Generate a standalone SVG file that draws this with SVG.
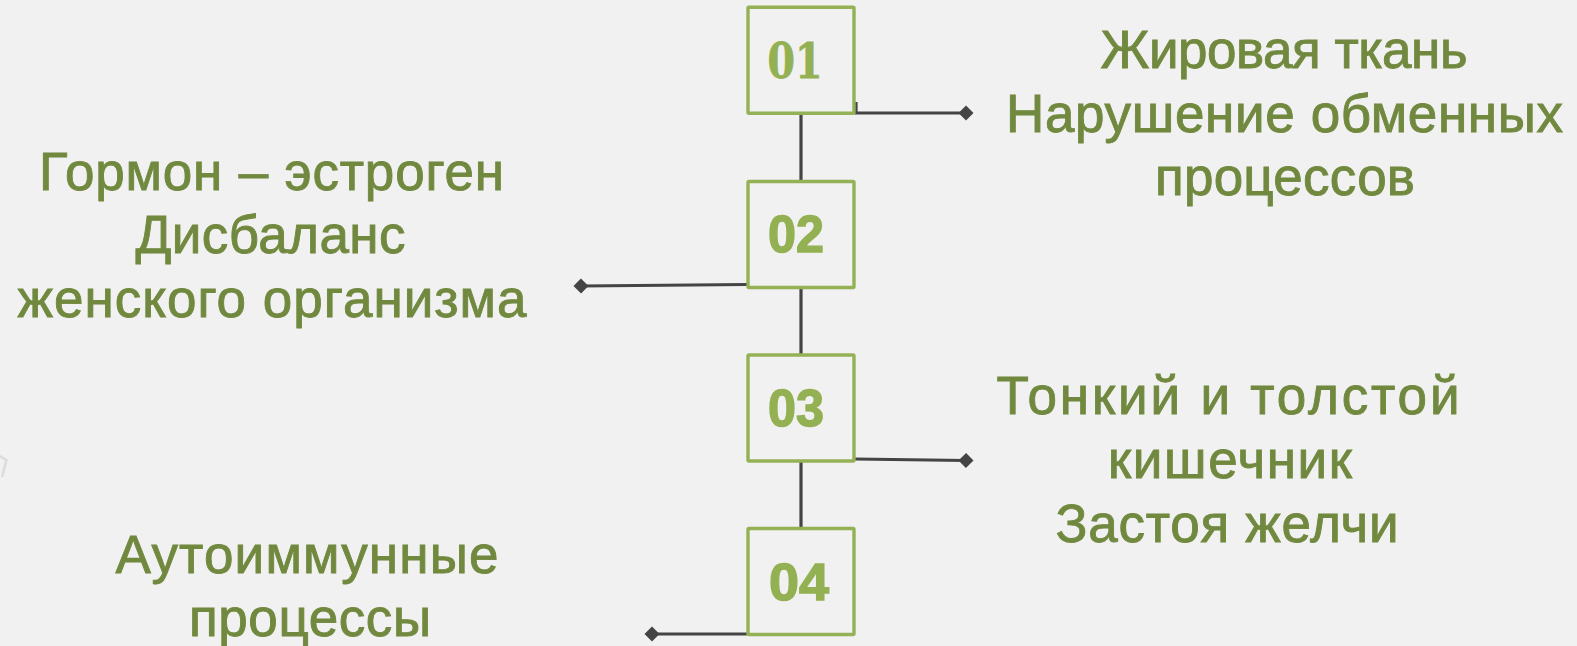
<svg xmlns="http://www.w3.org/2000/svg" width="1577" height="646" viewBox="0 0 1577 646">
  <defs>
    <style>
      .box { fill: none; stroke: #94b155; stroke-width: 3.4; }
      .num { font-family: "Liberation Sans", Arial, sans-serif; font-weight: bold; font-size: 51px; fill: #93b153; stroke: #93b153; stroke-width: 1.4; text-anchor: middle; }
      .num1 { font-family: "DejaVu Serif", "Liberation Serif", serif; font-weight: bold; font-size: 48px; fill: #93b153; stroke: #93b153; stroke-width: 0.8; text-anchor: middle; }
      .lbl { font-family: "Liberation Sans", Arial, sans-serif; font-size: 53px; fill: #71893f; stroke: #71893f; stroke-width: 0.9; text-anchor: middle; }
      .conn { fill: none; stroke: #444444; stroke-width: 3.2; }
    </style>
    <marker id="dia" viewBox="-9 -9 18 18" markerWidth="18" markerHeight="18" refX="0" refY="0" markerUnits="userSpaceOnUse" orient="auto">
      <path d="M-7.5,0 L0,-7.5 L7.5,0 L0,7.5 Z" fill="#444444"/>
    </marker>
  </defs>
  <rect x="0" y="0" width="1577" height="646" fill="#f1f1f1"/>
  <polyline points="0,456 6.5,460 2,477" fill="none" stroke="#dcdcdc" stroke-width="2.5"/>

  <g id="connectors">
    <line class="conn" x1="801" y1="114" x2="801" y2="181"/>
    <line class="conn" x1="801" y1="288" x2="801" y2="355"/>
    <line class="conn" x1="801" y1="462" x2="801" y2="528"/>
    <path class="conn" d="M856,102 V113 H966" marker-end="url(#dia)"/>
    <path class="conn" d="M747,284.5 L581,286" marker-end="url(#dia)"/>
    <path class="conn" d="M855,459 L966,460.5" marker-end="url(#dia)"/>
    <path class="conn" d="M747,634 L652,634" marker-end="url(#dia)"/>
  </g>

  <g id="node-01">
    <rect class="box" x="748" y="7.3" width="106" height="106" rx="1"/>
    <text class="num1" x="795" y="78" textLength="55" lengthAdjust="spacingAndGlyphs">01</text>
  </g>
  <g id="node-02">
    <rect class="box" x="748" y="181.5" width="106" height="106" rx="1"/>
    <text class="num" x="796" y="252" textLength="56" lengthAdjust="spacingAndGlyphs">02</text>
  </g>
  <g id="node-03">
    <rect class="box" x="748" y="355" width="106" height="106" rx="1"/>
    <text class="num" x="796" y="426" textLength="56" lengthAdjust="spacingAndGlyphs">03</text>
  </g>
  <g id="node-04">
    <rect class="box" x="748" y="528.5" width="106" height="106" rx="1"/>
    <text class="num" x="799" y="600" textLength="60" lengthAdjust="spacingAndGlyphs">04</text>
  </g>

  <g id="label-01">
    <text class="lbl" x="1284" y="68" textLength="367">Жировая ткань</text>
    <text class="lbl" x="1284.5" y="132" textLength="557">Нарушение обменных</text>
    <text class="lbl" x="1285" y="195" textLength="260">процессов</text>
  </g>
  <g id="label-02">
    <text class="lbl" x="271.5" y="190" textLength="465">Гормон – эстроген</text>
    <text class="lbl" x="270.5" y="253" textLength="270">Дисбаланс</text>
    <text class="lbl" x="272" y="317" textLength="509">женского организма</text>
  </g>
  <g id="label-03">
    <text class="lbl" x="1228" y="414" textLength="463">Тонкий и толстой</text>
    <text class="lbl" x="1230" y="478" textLength="244">кишечник</text>
    <text class="lbl" x="1227" y="542" textLength="343">Застоя желчи</text>
  </g>
  <g id="label-04">
    <text class="lbl" x="307" y="573" textLength="383">Аутоиммунные</text>
    <text class="lbl" x="310" y="636" textLength="242">процессы</text>
  </g>
</svg>
